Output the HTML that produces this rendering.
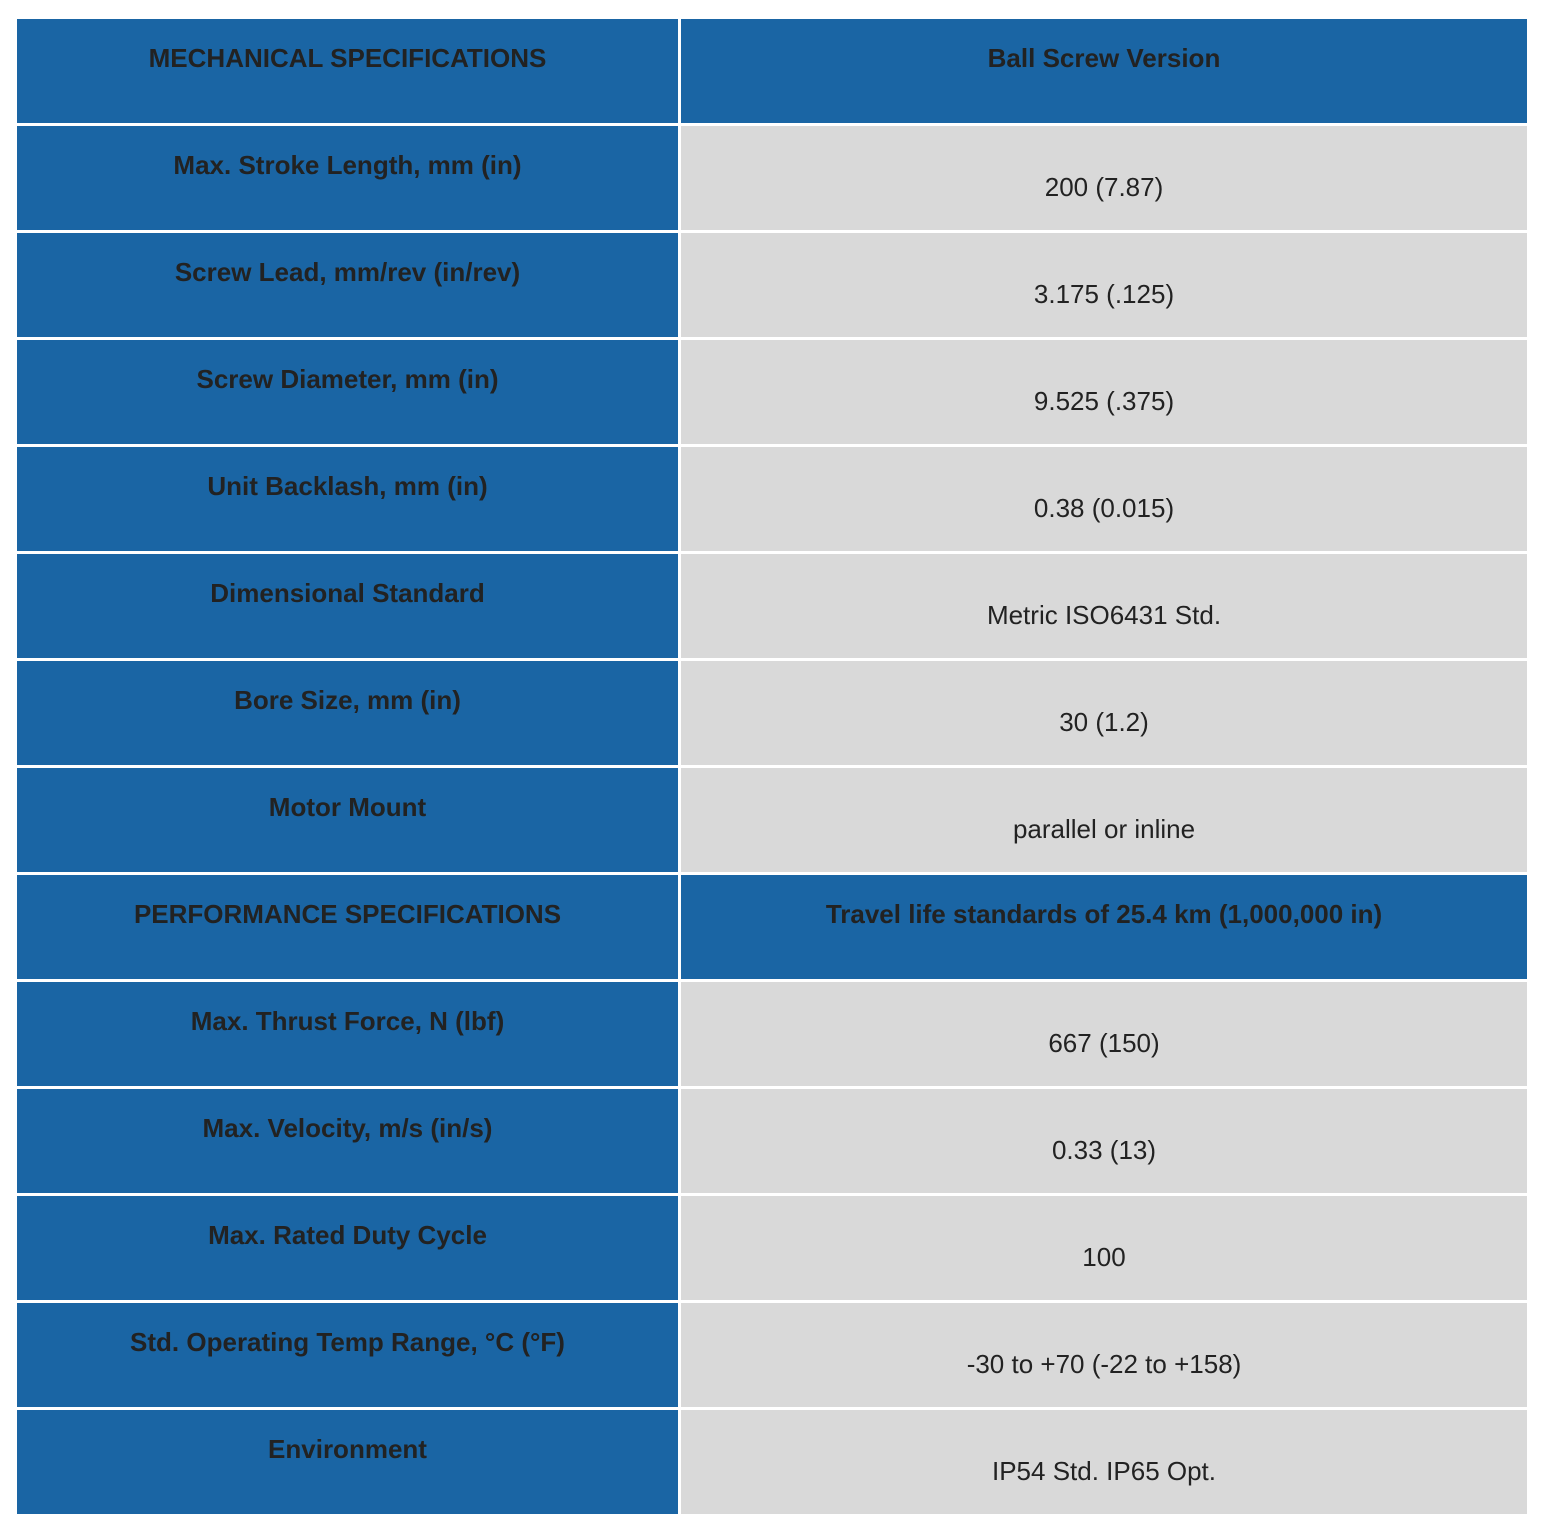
<!DOCTYPE html>
<html><head><meta charset="utf-8"><style>
body{margin:0;width:1554px;height:1532px;background:#fff;position:relative;font-family:"Liberation Sans",Arial,sans-serif;color:#222;}
.c{position:absolute;height:104px;box-sizing:border-box;text-align:center;font-size:26px;}
.l{left:17px;width:661px;background:#1a65a4;font-weight:bold;padding-top:24px;}
.r{left:681px;width:846px;background:#d9d9d9;padding-top:46px;}
.h{background:#1a65a4;font-weight:bold;padding-top:24px;}
</style></head><body>
<div id="t"></div>
<script>
const labels=["MECHANICAL SPECIFICATIONS","Max. Stroke Length, mm (in)","Screw Lead, mm/rev (in/rev)","Screw Diameter, mm (in)","Unit Backlash, mm (in)","Dimensional Standard","Bore Size, mm (in)","Motor Mount","PERFORMANCE SPECIFICATIONS","Max. Thrust Force, N (lbf)","Max. Velocity, m/s (in/s)","Max. Rated Duty Cycle","Std. Operating Temp Range, °C (°F)","Environment"];
const values=["Ball Screw Version","200 (7.87)","3.175 (.125)","9.525 (.375)","0.38 (0.015)","Metric ISO6431 Std.","30 (1.2)","parallel or inline","Travel life standards of 25.4 km (1,000,000 in)","667 (150)","0.33 (13)","100","-30 to +70 (-22 to +158)","IP54 Std. IP65 Opt."];
const headers=[0,8];
const t=document.getElementById('t');
labels.forEach((lab,i)=>{
  const top=19+i*107;
  const a=document.createElement('div');
  a.className='c l';a.style.top=top+'px';a.textContent=lab;
  
  
  t.appendChild(a);
  const b=document.createElement('div');
  b.className='c r'+(headers.includes(i)?' h':'');b.style.top=top+'px';b.textContent=values[i];
  
  
  t.appendChild(b);
});
</script>
</body></html>
